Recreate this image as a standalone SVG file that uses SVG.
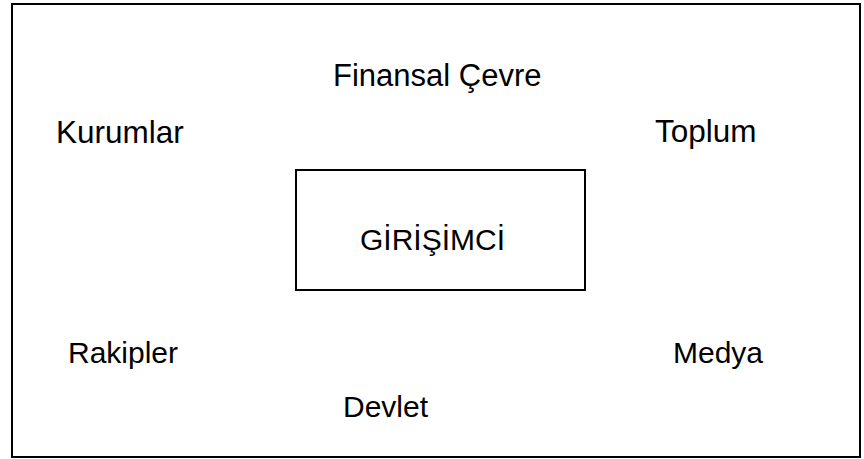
<svg xmlns="http://www.w3.org/2000/svg" width="864" height="459" viewBox="0 0 864 459">
<style>
.lbl{font-family:"Liberation Sans",Arial,sans-serif;font-size:30px;fill:#000}
.big{font-size:31.5px}
.frame{fill:none;stroke:#000;stroke-width:2}
</style>
<rect x="0" y="0" width="864" height="459" fill="#fff"/>
<rect class="frame" x="12" y="4" width="848" height="453"/>
<g id="connectors"></g>
<g id="n-girisimci">
<rect class="frame" x="296" y="170" width="289" height="120"/>
<text class="lbl" x="360" y="250">GİRİŞİMCİ</text>
</g>
<g id="n-finansal"><text class="lbl" x="333" y="86" style="font-size:31px">Finansal Çevre</text></g>
<g id="n-kurumlar"><text class="lbl big" x="56" y="143">Kurumlar</text></g>
<g id="n-toplum"><text class="lbl big" x="655" y="142">Toplum</text></g>
<g id="n-rakipler"><text class="lbl" x="68" y="363">Rakipler</text></g>
<g id="n-medya"><text class="lbl" x="673" y="363">Medya</text></g>
<g id="n-devlet"><text class="lbl" x="343" y="417">Devlet</text></g>
</svg>
